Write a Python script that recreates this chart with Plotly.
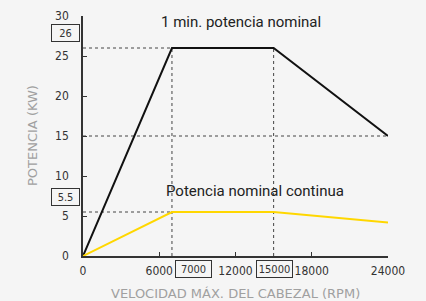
import plotly.graph_objects as go

# data
speed = [0, 7000, 15000, 24000]
power_1min = [0, 26, 26, 15]
power_cont = [0, 5.5, 5.5, 4.2]
x_ticks = [0, 6000, 12000, 18000, 24000]
y_ticks = [0, 5, 10, 15, 20, 25, 30]
mark_x = [7000, 15000]
mark_y = [26, 5.5]
label_1min = "1 min. potencia nominal"
label_cont = "Potencia nominal continua"

TICKFONT = dict(family="Liberation Sans Narrow, DejaVu Sans Condensed, sans-serif", size=12, color="#333333")
BOXFONT = dict(family="Liberation Sans Narrow, DejaVu Sans Condensed, sans-serif", size=11, color="#333333")
DOT = dict(color="#444444", width=1, dash="dot")

fig = go.Figure()
fig.add_trace(go.Scatter(x=speed, y=power_1min, mode="lines",
                         line=dict(color="#111111", width=2), showlegend=False, hoverinfo="skip"))
fig.add_trace(go.Scatter(x=speed, y=power_cont, mode="lines",
                         line=dict(color="#FFD700", width=2), showlegend=False, hoverinfo="skip"))

# dotted guide lines
shapes = []
shapes.append(dict(type="line", xref="x", yref="y", x0=speed[0], x1=speed[1], y0=power_1min[1], y1=power_1min[1], line=DOT, layer="below"))
shapes.append(dict(type="line", xref="x", yref="y", x0=speed[0], x1=speed[3], y0=power_1min[3], y1=power_1min[3], line=DOT, layer="below"))
shapes.append(dict(type="line", xref="x", yref="y", x0=speed[0], x1=speed[1], y0=power_cont[1], y1=power_cont[1], line=DOT, layer="below"))
for xv in mark_x:
    shapes.append(dict(type="line", xref="x", yref="y", x0=xv, x1=xv, y0=0, y1=power_1min[1], line=DOT, layer="below"))

annotations = []
annotations.append(dict(x=12400, y=29.3, xref="x", yref="y", text=label_1min, showarrow=False,
                        font=dict(family="Roboto, sans-serif", size=15, color="#222222")))
annotations.append(dict(x=13500, y=8.15, xref="x", yref="y", text=label_cont, showarrow=False,
                        font=dict(family="Roboto, sans-serif", size=15, color="#222222")))
xshifts = [22, 1]
for xv, xs in zip(mark_x, xshifts):
    annotations.append(dict(x=xv, y=0, xref="x", yref="paper", yanchor="middle", xanchor="center",
                            xshift=xs, yshift=-13, text=f"{xv}", showarrow=False, font=BOXFONT,
                            bordercolor="#333333", borderwidth=1, borderpad=0, width=35, height=16))
for yv in mark_y:
    annotations.append(dict(x=0, y=yv, xref="paper", yref="y", xanchor="center", yanchor="middle",
                            xshift=-18, yshift=15, text=f"{yv}", showarrow=False, font=BOXFONT,
                            bordercolor="#333333", borderwidth=1, borderpad=0, width=27, height=16))

# axis titles as annotations for precise placement
TITLEFONT = dict(family="DejaVu Sans, sans-serif", size=13, color="#a0a0a0")
annotations.append(dict(x=0.5, y=0, xref="paper", yref="paper", yanchor="middle", yshift=-37,
                        text="VELOCIDAD MÁX. DEL CABEZAL (RPM)", showarrow=False, font=TITLEFONT))
annotations.append(dict(x=0, y=0.5, xref="paper", yref="paper", xanchor="center", xshift=-51,
                        text="POTENCIA (KW)", textangle=-90, showarrow=False, font=TITLEFONT))

fig.update_layout(
    width=426, height=301,
    margin=dict(l=83, r=38, t=16, b=45),
    paper_bgcolor="#f5f5f5", plot_bgcolor="#f5f5f5",
    shapes=shapes, annotations=annotations,
    xaxis=dict(range=[0, 24000], tickvals=x_ticks, ticktext=[str(v) for v in x_ticks],
               ticks="inside", ticklen=4, tickcolor="#333333", showgrid=False, zeroline=False,
               showline=True, linecolor="#333333", linewidth=1.5, tickfont=TICKFONT,
               ticklabelstandoff=3, automargin=False),
    yaxis=dict(range=[0, 30], tickvals=y_ticks, ticktext=[str(v) for v in y_ticks],
               ticks="inside", ticklen=4, tickcolor="#333333", showgrid=False, zeroline=False,
               showline=True, linecolor="#333333", linewidth=1.5, tickfont=TICKFONT,
               ticklabelstandoff=10, automargin=False),
)

fig.write_html("out.html", config={"displayModeBar": False},
               post_script="document.body.style.margin='0';document.body.style.background='#f5f5f5';document.body.style.overflow='hidden';")
